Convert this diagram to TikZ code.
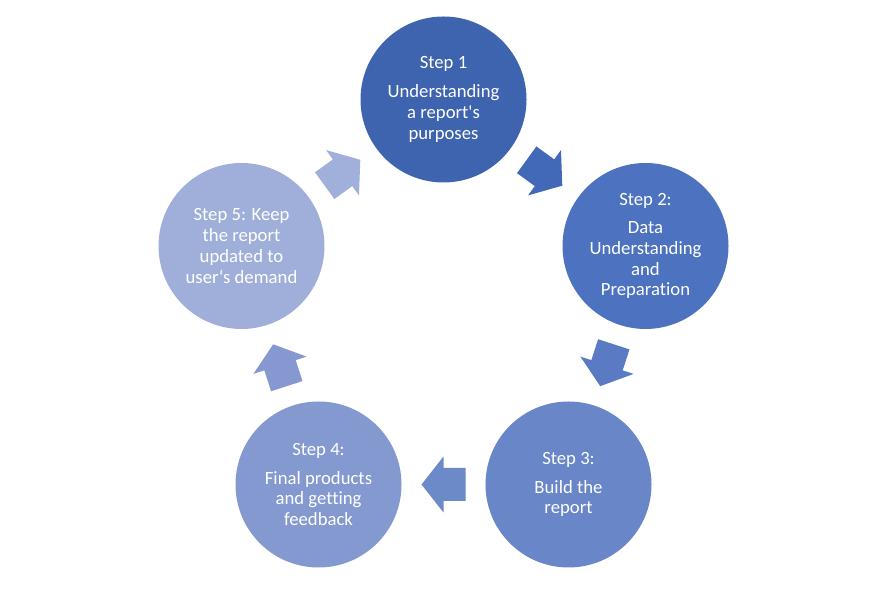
\documentclass[tikz,border=0pt]{standalone}
\usepackage{fontspec}
\setmainfont{Carlito}[Ligatures={TeX,NoCommon}]
\usetikzlibrary{calc}

\definecolor{stepone}{RGB}{62,100,175}
\definecolor{steptwo}{RGB}{76,114,192}
\definecolor{stepthree}{RGB}{104,134,200}
\definecolor{stepfour}{RGB}{131,153,208}
\definecolor{stepfive}{RGB}{159,175,218}
\definecolor{arrowone}{RGB}{66,104,184}
\definecolor{arrowtwo}{RGB}{90,123,196}
\definecolor{arrowthree}{RGB}{108,137,200}
\definecolor{arrowfour}{RGB}{133,153,208}
\definecolor{arrowfive}{RGB}{160,176,218}

\tikzset{
    stepnode/.style={circle, minimum size=166pt, inner sep=0pt, text=white,
        align=center, font=\fontsize{18.7}{20.7}\selectfont},
}

% block arrow: position, angle, colour
\newcommand{\blockarrow}[3]{%
    \fill[#3, shift={(#1)}, rotate=#2] (-22,-16.5) -- (0,-16.5) -- (0,-28) -- (22,0)
        -- (0,28) -- (0,16.5) -- (-22,16.5) -- cycle;}

\begin{document}
\begin{tikzpicture}[x=1pt, y=1pt]
            \useasboundingbox (0,0) rectangle (888,593);

            % Steps
            \node[stepnode, fill=stepone] (s1) at (443.5,493.5) {Step 1\\[8pt]Understanding\\a report\textquotesingle s\\purposes};
            \node[stepnode, fill=steptwo] (s2) at (645.5,347) {Step 2:\\[8pt]Data\\Understanding\\and\\Preparation};
            \node[stepnode, fill=stepthree] (s3) at (568.5,108.5) {Step 3:\\[8pt]Build the\\report};
            \node[stepnode, fill=stepfour] (s4) at (318.5,108.5) {Step 4:\\[8pt]Final products\\and getting\\feedback};
            \node[stepnode, fill=stepfive] (s5) at (241.5,347) {Step 5: Keep\\the report\\updated to\\user‘s demand};

            % Arrow positions
            \coordinate (a12) at ($(s1)!0.5!(s2)$);
            \coordinate (a23) at ($(s2)!0.5!(s3)$);
            \coordinate (a34) at ($(s3)!0.5!(s4)$);
            \coordinate (a45) at ($(s4)!0.5!(s5)$);
            \coordinate (a51) at ($(s5)!0.5!(s1)$);

            % Arrows
            \blockarrow{a12}{-36}{arrowone}
            \blockarrow{a23}{-108}{arrowtwo}
            \blockarrow{a34}{180}{arrowthree}
            \blockarrow{a45}{108}{arrowfour}
            \blockarrow{a51}{36}{arrowfive}
        \end{tikzpicture}
\end{document}
